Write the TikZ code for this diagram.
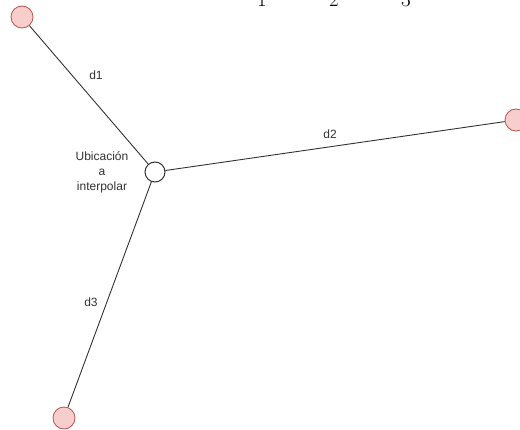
\documentclass[tikz,border=0pt]{standalone}
\usepackage{fontspec}
\setsansfont{Liberation Sans}
\definecolor{pinkfill}{HTML}{F8CECC}
\definecolor{pinkline}{HTML}{B85450}
\definecolor{linecol}{HTML}{333333}
\begin{document}
\begin{tikzpicture}[x=1pt,y=-1pt,
  pt/.style={circle,draw=pinkline,fill=pinkfill,line width=0.8pt,minimum size=22pt,inner sep=0pt},
  ctr/.style={circle,draw=linecol,fill=white,line width=1pt,minimum size=20pt,inner sep=0pt},
  edge/.style={draw=linecol,line width=0.9pt},
  lbl/.style={font=\sffamily\fontsize{12}{14}\selectfont,text=linecol,inner sep=0pt},
  dig/.style={font=\fontsize{21}{23}\selectfont,inner sep=0pt,anchor=base}]
\useasboundingbox (0,0) rectangle (520,430);
\node[dig] (s1) at (262,7) {1};
\node[dig] (s2) at (334,7) {2};
\node[dig] (s3) at (406,7) {3};
\node[ctr] (c) at (155,172) {};
\node[pt] (p1) at (22,17) {};
\node[pt] (p2) at (516,120) {};
\node[pt] (p3) at (64,418) {};
\draw[edge] (p1) -- (c);
\draw[edge] (p2) -- (c);
\draw[edge] (p3) -- (c);
\node[lbl] (l1) at (96,75) {d1};
\node[lbl] (l2) at (330,134) {d2};
\node[lbl] (l3) at (91,302) {d3};
\node[lbl,align=center,font=\sffamily\fontsize{12}{15}\selectfont] (t) at (102,172) {Ubicación\\a\\interpolar};
\end{tikzpicture}
\end{document}
